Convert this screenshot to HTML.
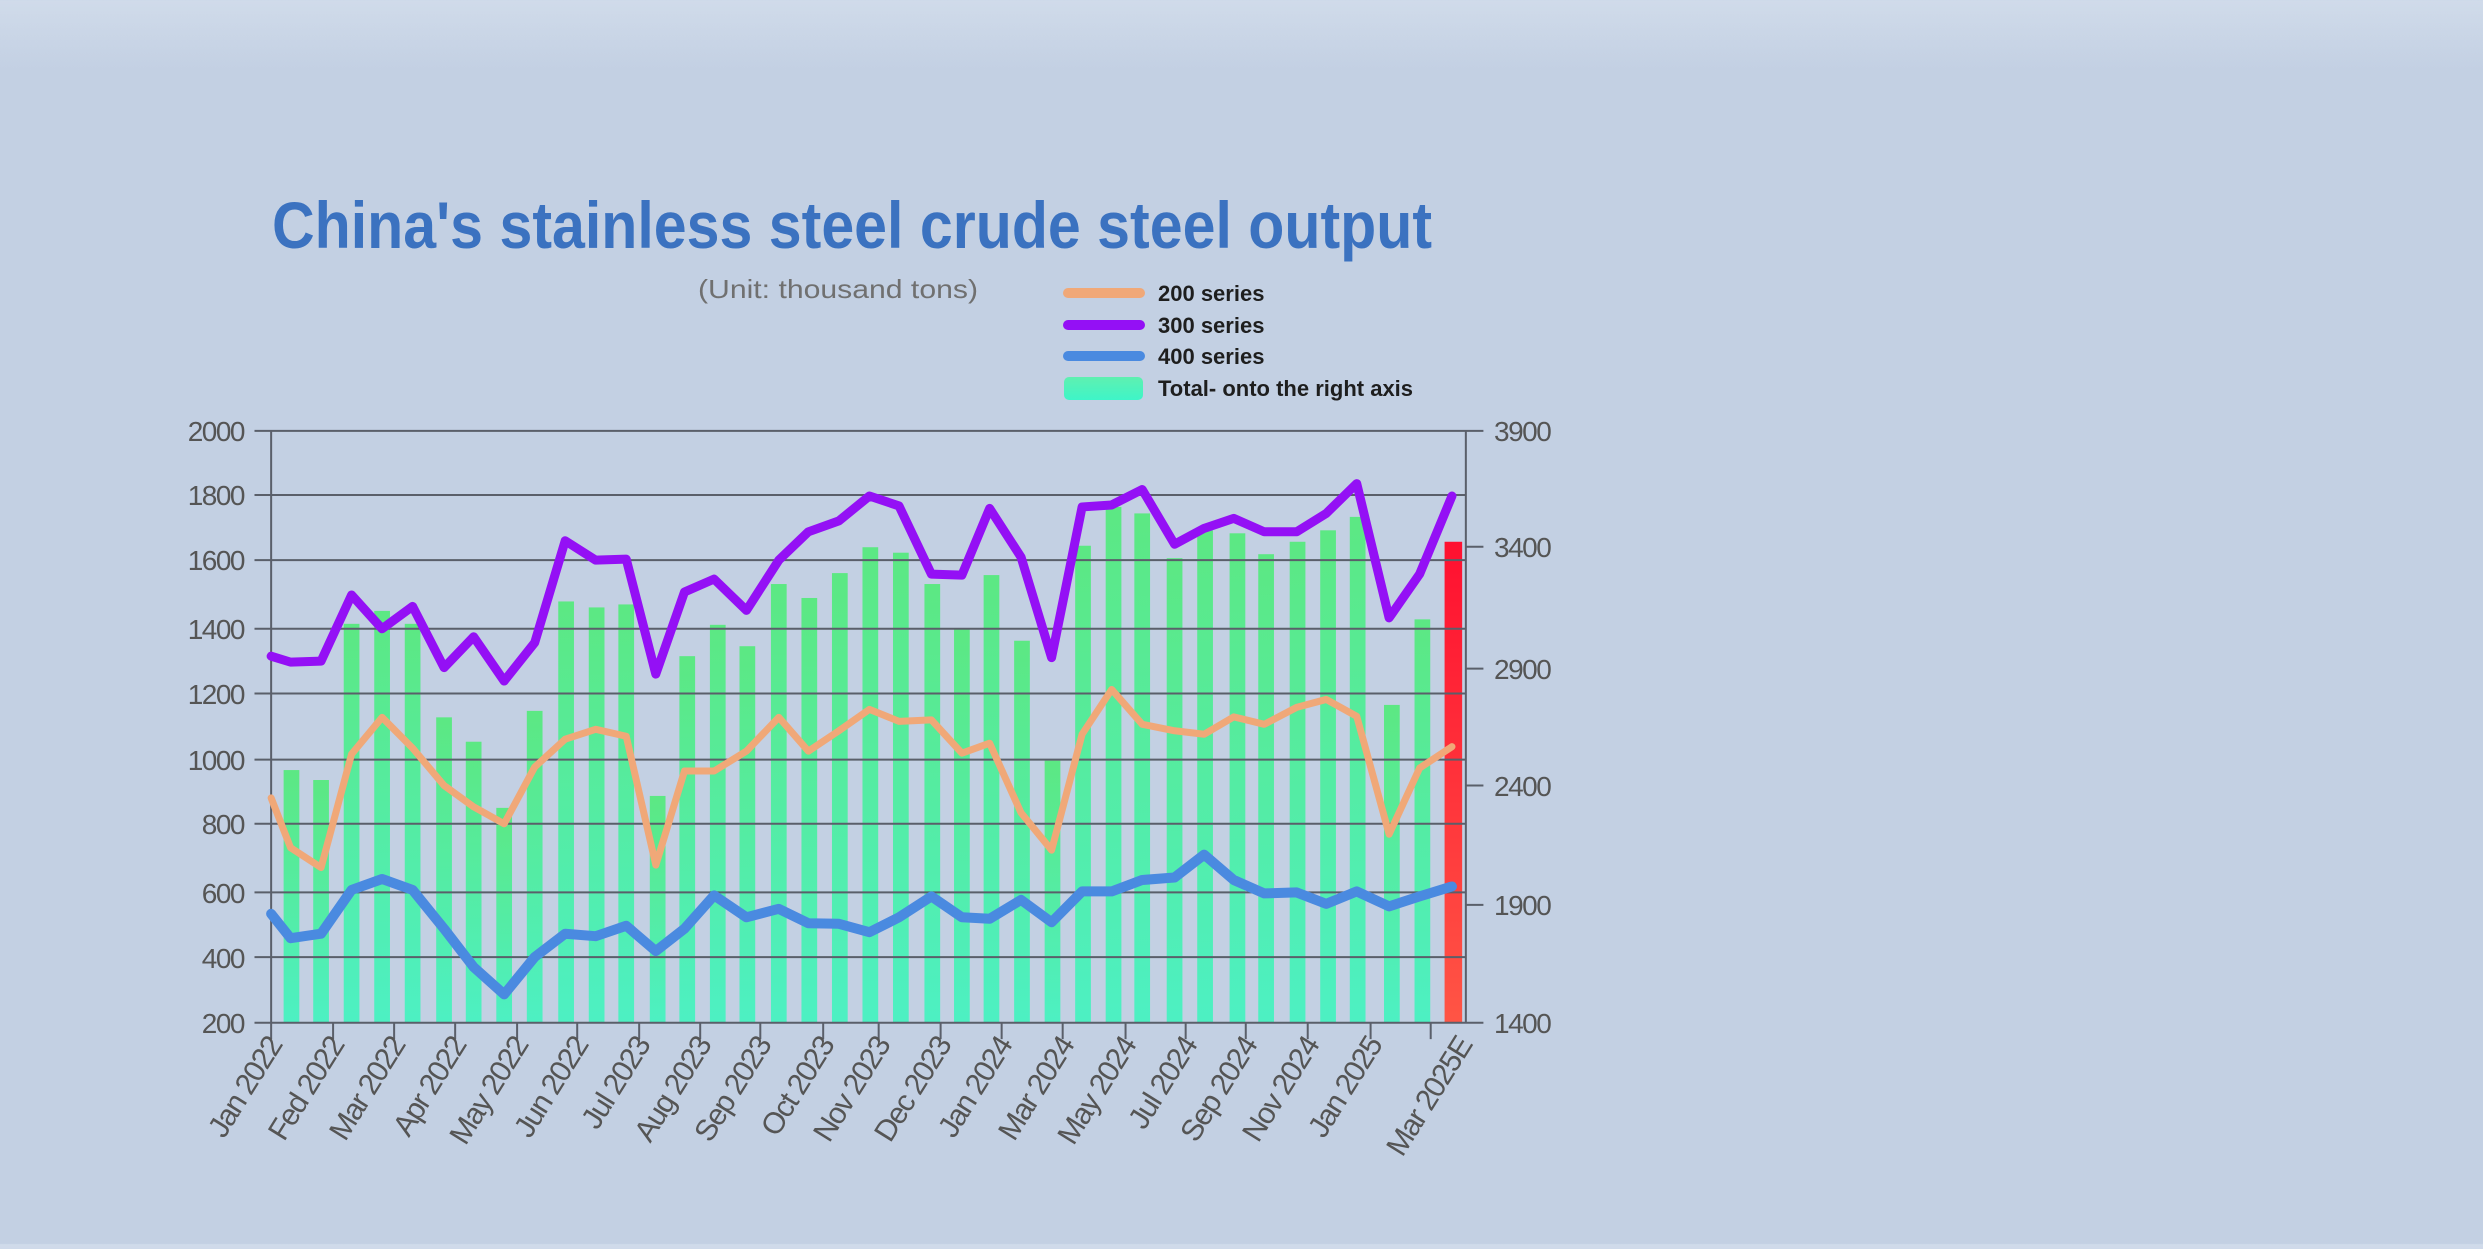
<!DOCTYPE html>
<html><head><meta charset="utf-8"><style>
html,body{margin:0;padding:0;}
body{width:2483px;height:1244px;overflow:hidden;background:linear-gradient(#d0dbea 0px,#c3d0e3 70px,#c3d0e3 100%);font-family:"Liberation Sans",sans-serif;}
</style></head><body>
<svg width="2483" height="1244" viewBox="0 0 2483 1244" xmlns="http://www.w3.org/2000/svg">
<defs>
<linearGradient id="gb" x1="0" y1="0" x2="0" y2="1"><stop offset="0" stop-color="#5ce883"/><stop offset="1" stop-color="#4df0c3"/></linearGradient>
<linearGradient id="gr" x1="0" y1="0" x2="0" y2="1"><stop offset="0" stop-color="#ff1030"/><stop offset="1" stop-color="#ff5545"/></linearGradient>
<linearGradient id="gl" x1="0" y1="0" x2="0" y2="1"><stop offset="0" stop-color="#5ff0b0"/><stop offset="1" stop-color="#3ef5c8"/></linearGradient>
</defs>
<text x="272" y="248" font-size="66" font-weight="bold" fill="#3b72c0" textLength="1160" lengthAdjust="spacingAndGlyphs">China's stainless steel crude steel output</text>
<text x="698" y="298" font-size="26" fill="#707070" textLength="280" lengthAdjust="spacingAndGlyphs">(Unit: thousand tons)</text>
<g stroke-linecap="round">
<line x1="1068" y1="293" x2="1140" y2="293" stroke="#f0a878" stroke-width="10"/>
<line x1="1068" y1="325" x2="1140" y2="325" stroke="#9410f5" stroke-width="10"/>
<line x1="1068" y1="356" x2="1140" y2="356" stroke="#4a8ae0" stroke-width="10"/>
</g>
<rect x="1064" y="377" width="79" height="23" rx="5" fill="url(#gl)"/>
<g font-size="22" font-weight="bold" fill="#1e1e1e">
<text x="1158" y="301">200 series</text>
<text x="1158" y="333">300 series</text>
<text x="1158" y="364">400 series</text>
<text x="1158" y="396">Total- onto the right axis</text>
</g>
<g transform="translate(150,400) scale(0.9247,0.4974)">
<g fill="url(#gb)">
<rect x="144.5" y="744" width="17" height="508"/><rect x="176.5" y="764" width="17" height="488"/><rect x="209.5" y="450" width="17" height="802"/><rect x="242.5" y="424" width="17" height="828"/><rect x="275.5" y="450" width="17" height="802"/><rect x="309.5" y="638" width="17" height="614"/><rect x="341.5" y="687" width="17" height="565"/><rect x="374.5" y="820" width="17" height="432"/><rect x="407.5" y="625" width="17" height="627"/><rect x="441.5" y="405" width="17" height="847"/><rect x="474.5" y="417" width="17" height="835"/><rect x="506.5" y="411" width="17" height="841"/><rect x="540.5" y="796" width="17" height="456"/><rect x="572.5" y="515" width="17" height="737"/><rect x="605.5" y="452" width="17" height="800"/><rect x="637.5" y="495" width="17" height="757"/><rect x="671.5" y="370" width="17" height="882"/><rect x="704.5" y="398" width="17" height="854"/><rect x="737.5" y="348" width="17" height="904"/><rect x="770.5" y="296" width="17" height="956"/><rect x="803.5" y="307" width="17" height="945"/><rect x="837.5" y="370" width="17" height="882"/><rect x="869.5" y="460" width="17" height="792"/><rect x="901.5" y="352" width="17" height="900"/><rect x="934.5" y="484" width="17" height="768"/><rect x="967.5" y="725" width="17" height="527"/><rect x="1000.5" y="293" width="17" height="959"/><rect x="1033.5" y="215" width="17" height="1037"/><rect x="1064.5" y="228" width="17" height="1024"/><rect x="1099.5" y="318" width="17" height="934"/><rect x="1132.5" y="262" width="17" height="990"/><rect x="1167.5" y="268" width="17" height="984"/><rect x="1198.5" y="310" width="17" height="942"/><rect x="1232.5" y="285" width="17" height="967"/><rect x="1265.5" y="262" width="17" height="990"/><rect x="1297.5" y="235" width="17" height="1017"/><rect x="1334.5" y="613" width="17" height="639"/><rect x="1367.5" y="441" width="17" height="811"/>
</g>
<rect x="1400" y="285" width="19" height="967" fill="url(#gr)"/>
<g stroke="#5a5f6a" stroke-width="2" fill="none">
<path vector-effect="non-scaling-stroke" d="M113 62H1442M113 191H1423M113 322H1423M113 460H1423M113 590H1423M113 723H1423M113 852H1423M113 990H1423M113 1120H1423M113 1252H1442M1423 295H1442M1423 540H1442M1423 775H1442M1423 1015H1442M131 62V1285M1423 62V1252M198 1252V1285M264 1252V1285M330 1252V1285M397 1252V1285M462 1252V1285M529 1252V1285M595 1252V1285M660 1252V1285M728 1252V1285M788 1252V1285M855 1252V1285M921 1252V1285M987 1252V1285M1055 1252V1285M1120 1252V1285M1185 1252V1285M1252 1252V1285M1320 1252V1285M1385 1252V1285"/>
</g>
<g fill="none" stroke-linejoin="round" stroke-linecap="round">
<path vector-effect="non-scaling-stroke" stroke="#f0a878" stroke-width="7" d="M131 800L152 900L185 940L218 712L251 638L284 700L318 775L350 818L383 852L416 738L449 682L482 662L515 676L547 935L578 746L610 746L645 706L680 638L712 706L745 665L778 622L810 646L845 643L878 710L908 690L942 830L975 905L1008 672L1040 582L1073 652L1108 665L1140 672L1172 637L1205 652L1240 618L1272 602L1305 636L1340 873L1373 740L1408 697"/>
<path vector-effect="non-scaling-stroke" stroke="#9410f5" stroke-width="9" d="M131 515L152 527L185 525L218 392L251 460L284 415L318 538L350 476L383 565L416 488L449 283L482 322L515 320L547 551L578 386L610 360L645 423L680 322L712 265L745 243L778 193L810 213L845 350L878 352L908 218L942 316L975 518L1008 215L1040 211L1073 180L1108 290L1140 258L1172 238L1205 265L1240 265L1272 228L1305 168L1340 438L1373 350L1408 193"/>
<path vector-effect="non-scaling-stroke" stroke="#4a8ae0" stroke-width="10" d="M131 1033L152 1082L185 1073L218 985L251 963L284 985L318 1063L350 1140L383 1195L416 1120L449 1073L482 1078L515 1057L547 1108L578 1063L610 996L645 1040L680 1023L712 1052L745 1053L778 1070L810 1040L845 998L878 1040L908 1043L942 1005L975 1050L1008 988L1040 988L1073 965L1108 960L1140 914L1172 965L1205 992L1240 990L1272 1013L1305 988L1340 1018L1373 998L1408 978"/>
</g>
</g>
<g font-size="28" fill="#555" text-anchor="end" letter-spacing="-1.5">
<text x="244" y="441">2000</text><text x="244" y="505">1800</text><text x="244" y="570">1600</text><text x="244" y="639">1400</text><text x="244" y="704">1200</text><text x="244" y="770">1000</text><text x="244" y="834">800</text><text x="244" y="903">600</text><text x="244" y="968">400</text><text x="244" y="1033">200</text>
</g>
<g font-size="28" fill="#555" letter-spacing="-1.5">
<text x="1494" y="441">3900</text><text x="1494" y="557">3400</text><text x="1494" y="679">2900</text><text x="1494" y="796">2400</text><text x="1494" y="915">1900</text><text x="1494" y="1033">1400</text>
</g>
<g font-size="30" fill="#555" text-anchor="end" letter-spacing="-1.5">
<text transform="translate(283,1045) rotate(-58)">Jan 2022</text>
<text transform="translate(345,1045) rotate(-58)">Fed 2022</text>
<text transform="translate(406,1045) rotate(-58)">Mar 2022</text>
<text transform="translate(467,1045) rotate(-58)">Apr 2022</text>
<text transform="translate(529,1045) rotate(-58)">May 2022</text>
<text transform="translate(589,1045) rotate(-58)">Jun 2022</text>
<text transform="translate(651,1045) rotate(-58)">Jul 2023</text>
<text transform="translate(712,1045) rotate(-58)">Aug 2023</text>
<text transform="translate(772,1045) rotate(-58)">Sep 2023</text>
<text transform="translate(835,1045) rotate(-58)">Oct 2023</text>
<text transform="translate(891,1045) rotate(-58)">Nov 2023</text>
<text transform="translate(952,1045) rotate(-58)">Dec 2023</text>
<text transform="translate(1013,1045) rotate(-58)">Jan 2024</text>
<text transform="translate(1075,1045) rotate(-58)">Mar 2024</text>
<text transform="translate(1137,1045) rotate(-58)">May 2024</text>
<text transform="translate(1198,1045) rotate(-58)">Jul 2024</text>
<text transform="translate(1258,1045) rotate(-58)">Sep 2024</text>
<text transform="translate(1320,1045) rotate(-58)">Nov 2024</text>
<text transform="translate(1383,1045) rotate(-58)">Jan 2025</text>
<text transform="translate(1473,1045) rotate(-58)">Mar 2025E</text>
</g>
</svg>
</body></html>
